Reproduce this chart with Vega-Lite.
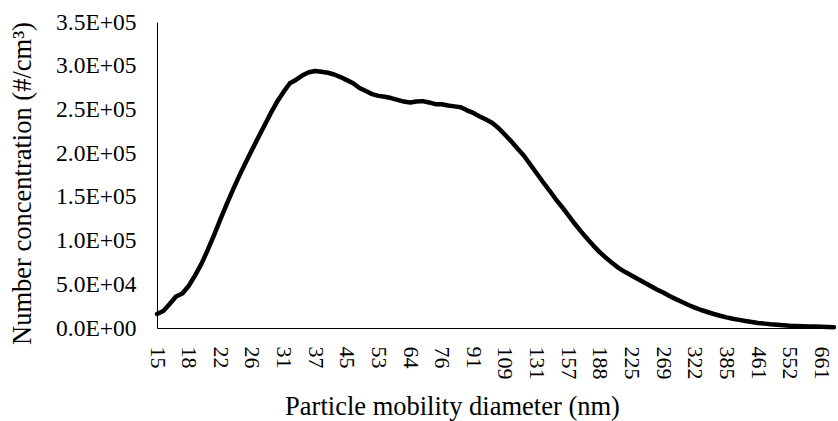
{
  "$schema": "https://vega.github.io/schema/vega-lite/v6.json",
  "width": 677,
  "height": 306,
  "autosize": {"type": "none"},
  "padding": {"left": 157, "top": 22, "right": 4, "bottom": 93},
  "background": "white",
  "config": {
    "view": {"stroke": null},
    "font": "Liberation Serif",
    "axis": {"labelFont": "Liberation Serif", "titleFont": "Liberation Serif", "labelColor": "#000", "titleColor": "#000", "titleFontWeight": "normal", "domainColor": "#000", "domainWidth": 1, "grid": false, "ticks": false}
  },
  "data": {
    "values": [
      {"d": 15.1, "n": 16000}, {"d": 15.7, "n": 19500}, {"d": 16.3, "n": 27500}, {"d": 16.8, "n": 36000}, {"d": 17.5, "n": 39500},
      {"d": 18.1, "n": 48000}, {"d": 18.8, "n": 60000}, {"d": 19.5, "n": 73000}, {"d": 20.2, "n": 89000}, {"d": 20.9, "n": 106000},
      {"d": 21.7, "n": 124000}, {"d": 22.5, "n": 141500}, {"d": 23.3, "n": 158000}, {"d": 24.1, "n": 174000}, {"d": 25.0, "n": 189000},
      {"d": 25.9, "n": 203500}, {"d": 26.9, "n": 218000}, {"d": 27.9, "n": 232000}, {"d": 28.9, "n": 246000}, {"d": 30.0, "n": 259000},
      {"d": 31.1, "n": 270000}, {"d": 32.2, "n": 280000}, {"d": 33.4, "n": 284000}, {"d": 34.6, "n": 289000}, {"d": 35.9, "n": 292500},
      {"d": 37.2, "n": 294000}, {"d": 38.5, "n": 293000}, {"d": 40.0, "n": 292000}, {"d": 41.4, "n": 290000}, {"d": 42.9, "n": 287000},
      {"d": 44.5, "n": 283500}, {"d": 46.1, "n": 280000}, {"d": 47.8, "n": 274500}, {"d": 49.6, "n": 271000}, {"d": 51.4, "n": 267500},
      {"d": 53.3, "n": 265500}, {"d": 55.2, "n": 264500}, {"d": 57.3, "n": 263000}, {"d": 59.4, "n": 261000}, {"d": 61.5, "n": 259000},
      {"d": 63.8, "n": 258000}, {"d": 66.1, "n": 259000}, {"d": 68.5, "n": 259500}, {"d": 71.0, "n": 258000}, {"d": 73.7, "n": 256000},
      {"d": 76.4, "n": 256000}, {"d": 79.1, "n": 254500}, {"d": 82.0, "n": 253500}, {"d": 85.1, "n": 252500}, {"d": 88.2, "n": 249000},
      {"d": 91.4, "n": 246000}, {"d": 94.7, "n": 242000}, {"d": 98.2, "n": 238500}, {"d": 101.8, "n": 234500}, {"d": 105.5, "n": 228500},
      {"d": 109.4, "n": 221000}, {"d": 113.4, "n": 213500}, {"d": 117.6, "n": 205000}, {"d": 121.9, "n": 197000}, {"d": 126.3, "n": 187000},
      {"d": 131.0, "n": 177000}, {"d": 135.8, "n": 167000}, {"d": 140.7, "n": 157500}, {"d": 145.9, "n": 147500}, {"d": 151.2, "n": 138500},
      {"d": 156.8, "n": 129000}, {"d": 162.5, "n": 119500}, {"d": 168.5, "n": 110500}, {"d": 174.7, "n": 102000}, {"d": 181.1, "n": 94000},
      {"d": 187.7, "n": 86500}, {"d": 194.6, "n": 80000}, {"d": 201.7, "n": 74000}, {"d": 209.1, "n": 68500}, {"d": 216.7, "n": 64000},
      {"d": 224.7, "n": 60000}, {"d": 232.9, "n": 56000}, {"d": 241.4, "n": 52000}, {"d": 250.3, "n": 48000}, {"d": 259.5, "n": 44000},
      {"d": 269.0, "n": 40500}, {"d": 278.8, "n": 36500}, {"d": 289.0, "n": 33000}, {"d": 299.6, "n": 29700}, {"d": 310.6, "n": 26300},
      {"d": 322.0, "n": 23400}, {"d": 333.8, "n": 20600}, {"d": 346.0, "n": 18300}, {"d": 358.7, "n": 16000}, {"d": 371.8, "n": 14000},
      {"d": 385.4, "n": 12200}, {"d": 399.5, "n": 10600}, {"d": 414.2, "n": 9300}, {"d": 429.4, "n": 8000}, {"d": 445.1, "n": 6900},
      {"d": 461.4, "n": 5800}, {"d": 478.3, "n": 5000}, {"d": 495.8, "n": 4300}, {"d": 514.0, "n": 3800}, {"d": 532.8, "n": 3200},
      {"d": 552.3, "n": 2700}, {"d": 572.5, "n": 2400}, {"d": 593.5, "n": 2100}, {"d": 615.3, "n": 1800}, {"d": 637.8, "n": 1600},
      {"d": 661.2, "n": 1400}, {"d": 685.4, "n": 1200}, {"d": 710.5, "n": 1000}
    ]
  },
  "mark": {"type": "line", "color": "#000", "strokeWidth": 4.5, "strokeJoin": "round", "strokeCap": "round"},
  "encoding": {
    "x": {
      "field": "d",
      "type": "ordinal",
      "scale": {"type": "point", "padding": 0},
      "axis": {
        "title": "Particle mobility diameter (nm)",
        "values": [15.1, 18.1, 21.7, 25.9, 31.1, 37.2, 44.5, 53.3, 63.8, 76.4, 91.4, 109.4, 131.0, 156.8, 187.7, 224.7, 269.0, 322.0, 385.4, 461.4, 552.3, 661.2],
        "labelExpr": "format(round(datum.value), 'd')",
        "labelAngle": 90,
        "labelAlign": "left",
        "labelBaseline": "middle",
        "labelPadding": 18,
        "labelFontSize": 22,
        "titleFontSize": 26.5,
        "titleX": 295,
        "titleY": 86,
        "titleAlign": "center",
        "titleBaseline": "alphabetic"
      }
    },
    "y": {
      "field": "n",
      "type": "quantitative",
      "scale": {"domain": [0, 350000], "nice": false},
      "axis": {
        "title": "Number concentration (#/cm³)",
        "values": [0, 50000, 100000, 150000, 200000, 250000, 300000, 350000],
        "labelExpr": "datum.value == 0 ? '0.0E+00' : (format(datum.value / pow(10, floor(log(datum.value) / LN10 + 1e-9)), '.1f') + 'E+0' + floor(log(datum.value) / LN10 + 1e-9))",
        "labelPadding": 21,
        "labelFontSize": 23.5,
        "titleFontSize": 26.5,
        "titleX": -135,
        "titleY": 161,
        "titleAlign": "center",
        "titleBaseline": "middle",
        "titleAngle": 270
      }
    }
  }
}
